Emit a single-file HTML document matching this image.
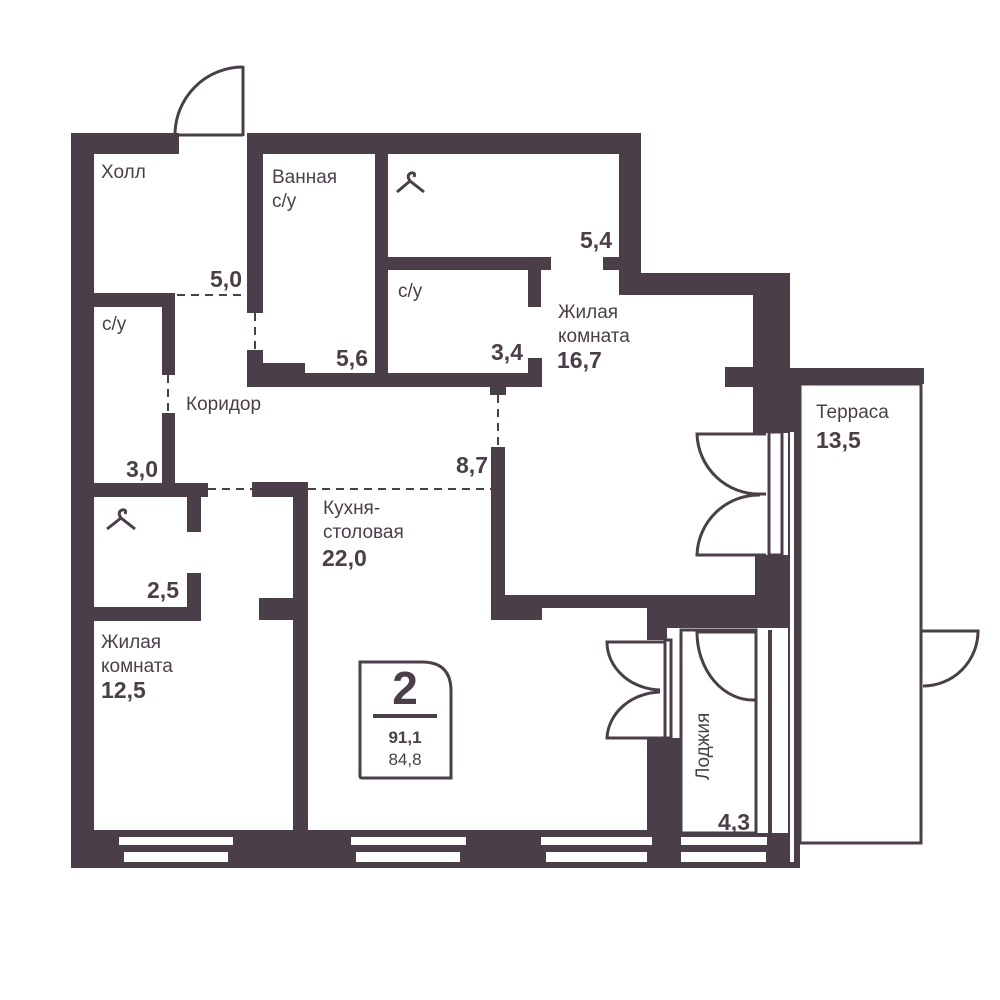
<!DOCTYPE html>
<html><head><meta charset="utf-8"><style>
html,body{margin:0;padding:0;background:#fff;}
svg{display:block;}
text{font-family:"Liberation Sans",sans-serif;fill:#4a3f49;}
.r{font-size:19px;}
.b{font-size:23px;font-weight:bold;}
</style></head><body>
<svg width="1000" height="1000" viewBox="0 0 1000 1000" xmlns="http://www.w3.org/2000/svg">
<g fill="#4a3f49">
<rect x="71" y="133" width="23" height="735"/>
<rect x="71" y="133" width="108" height="21"/>
<rect x="247" y="133" width="394" height="21"/>
<rect x="619" y="133" width="22" height="162"/>
<rect x="603" y="257" width="20" height="13"/>
<rect x="619" y="273" width="171" height="22"/>
<rect x="753" y="273" width="37" height="160"/>
<rect x="725" y="367" width="30" height="20"/>
<rect x="753" y="368" width="171" height="16"/>
<rect x="753" y="384" width="47" height="48"/>
<rect x="247" y="154" width="16" height="159"/>
<rect x="247" y="350" width="16" height="37"/>
<rect x="247" y="363" width="58" height="24"/>
<rect x="247" y="373" width="295" height="14"/>
<rect x="375" y="154" width="13" height="233"/>
<rect x="388" y="257" width="163" height="13"/>
<rect x="528" y="257" width="13" height="50"/>
<rect x="528" y="358" width="14" height="29"/>
<rect x="490" y="387" width="16" height="8"/>
<rect x="94" y="293" width="81" height="14"/>
<rect x="162" y="293" width="13" height="82"/>
<rect x="162" y="413" width="13" height="84"/>
<rect x="94" y="483" width="114" height="14"/>
<rect x="252" y="482" width="56" height="15"/>
<rect x="187" y="497" width="14" height="35"/>
<rect x="187" y="573" width="14" height="48"/>
<rect x="94" y="607" width="107" height="14"/>
<rect x="293" y="482" width="15" height="352"/>
<rect x="259" y="598" width="34" height="22"/>
<rect x="491" y="447" width="14" height="173"/>
<rect x="491" y="595" width="300" height="13"/>
<rect x="491" y="608" width="51" height="12"/>
<rect x="647" y="608" width="143" height="20"/>
<rect x="755" y="555" width="35" height="53"/>
<rect x="647" y="628" width="20" height="12"/>
<rect x="647" y="738" width="33" height="130"/>
<rect x="71" y="830" width="617" height="38"/>
<rect x="680" y="833" width="120" height="35"/>
<rect x="795" y="384" width="5" height="484"/>
<rect x="788" y="432" width="12" height="436"/>
</g>
<g fill="#fff">
<rect x="119" y="837" width="114" height="8"/><rect x="124" y="852" width="104" height="10"/>
<rect x="351" y="837" width="115" height="8"/><rect x="356" y="852" width="104" height="10"/>
<rect x="541" y="837" width="111" height="8"/><rect x="546" y="852" width="101" height="10"/>
<rect x="681" y="837" width="86" height="8"/><rect x="681" y="852" width="85" height="10"/>
<rect x="790" y="432" width="4" height="430"/>
<rect x="680" y="628" width="75" height="205"/>
</g>
<g fill="none" stroke="#4a3f49" stroke-width="3">
<line x1="243" y1="66" x2="243" y2="136"/>
<line x1="175" y1="135" x2="243" y2="135"/>
<path d="M175 135 A68 68 0 0 1 243 67"/>
<g stroke-dasharray="8 6" stroke-width="2">
<line x1="177" y1="295" x2="247" y2="295"/>
<line x1="255" y1="313" x2="255" y2="350"/>
<line x1="168" y1="375" x2="168" y2="413"/>
<line x1="208" y1="489" x2="252" y2="489"/>
<line x1="308" y1="489" x2="492" y2="489"/>
<line x1="498" y1="395" x2="498" y2="447"/>
</g>
<rect x="800" y="384" width="121" height="459"/>
<path d="M921 631 L978 631 A55 55 0 0 1 923 686"/>
<rect x="769" y="432" width="13" height="123" fill="#fff"/>
<path d="M766 434 L697 434 A62 62 0 0 0 760 494 L766 494"/>
<path d="M766 555 L697 555 A62 62 0 0 1 760 495"/>
<rect x="681" y="630" width="75" height="203"/>
<line x1="770" y1="630" x2="770" y2="845" stroke-width="4"/>
<rect x="665" y="640" width="6" height="98" fill="#fff"/>
<path d="M664 642 L607 642 A55 48 0 0 0 660 690"/>
<path d="M664 738 L607 738 A55 48 0 0 1 660 692"/>
<path d="M756 632 L697 632 A56 68 0 0 0 755 700"/>
<path d="M360 662 L422 662 Q451 662 451 691 L451 778 L362 778 Q360 778 360 776 Z"/>
<line x1="373" y1="716" x2="437" y2="716" stroke-width="4"/>
<path d="M397 192 L410 181 L424 192 M410 181 Q406 175 411 173 Q416 172 414 177"/>
<path d="M107 529 L121 518 L135 529 M121 518 Q117 512 122 510 Q127 509 125 514"/>
</g>
<text class="r" x="101" y="178">Холл</text>
<text class="r" x="272" y="183">Ванная</text>
<text class="r" x="272" y="207">с/у</text>
<text class="b" x="612" y="248" text-anchor="end">5,4</text>
<text class="b" x="242" y="287" text-anchor="end">5,0</text>
<text class="r" x="398" y="297">с/у</text>
<text class="r" x="558" y="318">Жилая</text>
<text class="r" x="558" y="342">комната</text>
<text class="b" x="557" y="368">16,7</text>
<text class="b" x="523" y="360" text-anchor="end">3,4</text>
<text class="b" x="368" y="366" text-anchor="end">5,6</text>
<text class="r" x="102" y="330">с/у</text>
<text class="r" x="186" y="410">Коридор</text>
<text class="b" x="158" y="477" text-anchor="end">3,0</text>
<text class="b" x="488" y="473" text-anchor="end">8,7</text>
<text class="r" x="323" y="514">Кухня-</text>
<text class="r" x="323" y="538">столовая</text>
<text class="b" x="322" y="566">22,0</text>
<text class="b" x="179" y="598" text-anchor="end">2,5</text>
<text class="r" x="101" y="648">Жилая</text>
<text class="r" x="101" y="672">комната</text>
<text class="b" x="101" y="698">12,5</text>
<text class="r" x="816" y="418">Терраса</text>
<text class="b" x="816" y="448">13,5</text>
<text class="r" x="0" y="0" transform="translate(709,780) rotate(-90)">Лоджия</text>
<text class="b" x="750" y="830" text-anchor="end">4,3</text>
<text x="405" y="704" text-anchor="middle" style="font-size:46px;font-weight:bold">2</text>
<text x="405" y="743" text-anchor="middle" style="font-size:17px;font-weight:bold">91,1</text>
<text x="405" y="765" text-anchor="middle" style="font-size:17px">84,8</text>
</svg>
</body></html>
